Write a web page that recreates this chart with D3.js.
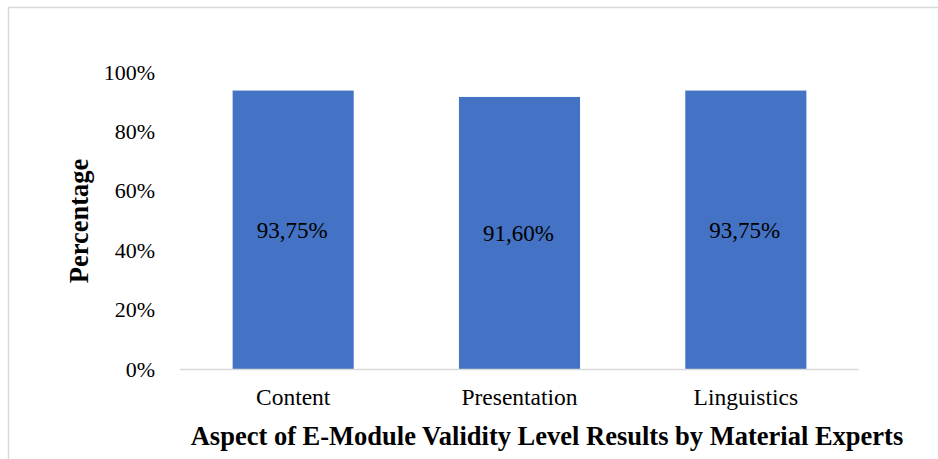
<!DOCTYPE html>
<html>
<head>
<meta charset="utf-8">
<script src="https://cdn.jsdelivr.net/npm/d3@7"></script>
<style>
  html, body { margin: 0; padding: 0; background: #fff; }
  svg { display: block; }
  text { font-family: "Liberation Serif", "Times New Roman", serif; fill: #000; }
</style>
</head>
<body>
<svg id="chart" width="938" height="459"></svg>
<script>
// Validity scores per aspect (percent)
const categories = ["Content", "Presentation", "Linguistics"];
const values = [93.75, 91.60, 93.75];
const valueLabels = ["93,75%", "91,60%", "93,75%"];
const yTicks = [0, 20, 40, 60, 80, 100];
const xTitle = "Aspect of E-Module Validity Level Results by Material Experts";
const yTitle = "Percentage";

const svg = d3.select("#chart");
const W = 938, H = 459;

// chart frame
svg.append("rect")
  .attr("x", 8.5).attr("y", 7.5)
  .attr("width", W).attr("height", H)
  .attr("fill", "#fff")
  .attr("stroke", "#d9d9d9").attr("stroke-width", 1.5);

const plot = { left: 180, right: 859, top: 72, bottom: 369 };

const x = d3.scaleBand()
  .domain(categories)
  .range([plot.left, plot.right])
  .paddingInner(0.465)
  .paddingOuter(0.2325);

const y = d3.scaleLinear()
  .domain([0, 100])
  .range([plot.bottom, plot.top]);

// bars
svg.append("g").selectAll("rect")
  .data(values)
  .join("rect")
  .attr("x", (d, i) => x(categories[i]))
  .attr("y", d => y(d))
  .attr("width", x.bandwidth())
  .attr("height", d => y(0) - y(d))
  .attr("fill", "#4472c4");

// value labels inside bars
svg.append("g").selectAll("text")
  .data(values)
  .join("text")
  .attr("x", (d, i) => x(categories[i]) + x.bandwidth() / 2 - 1)
  .attr("y", d => (y(d) + y(0)) / 2 + 8)
  .attr("text-anchor", "middle")
  .attr("font-size", 23)
  .text((d, i) => valueLabels[i]);

// y axis (labels only)
const yAxis = svg.append("g")
  .attr("transform", `translate(${plot.left},0)`)
  .call(d3.axisLeft(y).tickValues(yTicks).tickSize(0).tickPadding(25)
    .tickFormat(d => d + "%"));
yAxis.select(".domain").remove();
yAxis.selectAll("text").attr("font-size", 22).attr("font-family", "Liberation Serif, serif");

// x axis baseline and category labels
const xAxis = svg.append("g")
  .attr("transform", `translate(0,${plot.bottom})`)
  .call(d3.axisBottom(x).tickSize(0).tickPadding(19));
xAxis.select(".domain").attr("stroke", "#d9d9d9").attr("stroke-width", 1.5)
  .attr("d", `M${plot.left},0.5H${plot.right}`);
xAxis.selectAll("text").attr("font-size", 23.5).attr("font-family", "Liberation Serif, serif");

// axis titles
svg.append("text")
  .attr("x", 547)
  .attr("y", 445)
  .attr("text-anchor", "middle")
  .attr("font-size", 26.5)
  .attr("font-weight", "bold")
  .text(xTitle);

svg.append("text")
  .attr("transform", `translate(88,221) rotate(-90)`)
  .attr("text-anchor", "middle")
  .attr("font-size", 26.5)
  .attr("font-weight", "bold")
  .text(yTitle);
</script>
</body>
</html>
